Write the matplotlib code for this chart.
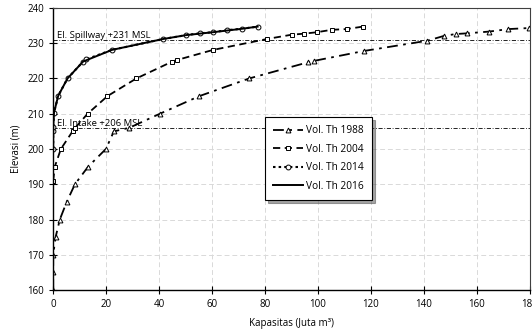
import matplotlib.pyplot as plt

plt.rcParams['font.family'] = ['Open Sans', 'DejaVu Sans']

# Vol. Th 1988
x_1988 = [0, 0, 0, 0.9, 2.5, 5.1, 8.2, 13.2, 19.9, 22.9, 28.7, 40.3, 55.2, 74.0,
          96.3, 98.6, 117.4, 141.3, 147.7, 152.1, 156.4, 164.7, 171.9, 179.8]
y_1988 = [160, 165, 170, 175, 180, 185, 190, 195, 200, 205, 206, 210, 215, 220,
          224.6, 225, 227.8, 230.7, 232.1, 232.6, 232.8, 233.3, 234.0, 234.3]

# Vol. Th 2004
x_2004 = [0, 0.6, 2.9, 7.3, 8.3, 13.0, 20.5, 31.4, 44.7, 46.6, 60.4, 80.8,
          90.0, 94.7, 99.5, 105.2, 110.8, 116.9]
y_2004 = [191, 195, 200, 205, 206, 210, 215, 220, 224.7, 225.2, 228.1, 231.2,
          232.4, 232.7, 233.1, 233.8, 234.0, 234.7]

# Vol. Th 2014
x_2014 = [0, 0, 0, 0.3, 1.9, 5.4, 11.3, 12.4, 22.2, 41.6, 50.3, 55.3, 60.2,
          65.6, 71.4, 77.2]
y_2014 = [200, 205.2, 206.2, 210.3, 215.1, 220, 224.8, 225.4, 228.1, 231.2,
          232.3, 232.8, 233.1, 233.7, 234.1, 234.7]

# Vol. Th 2016
x_2016 = [0, 0, 0.3, 1.9, 5.4, 11.3, 22.2, 41.6, 50.3, 60.2, 71.4, 77.2]
y_2016 = [200, 206, 210.3, 215.1, 220, 224.8, 228.1, 231.2, 232.3, 233.1, 234.1, 234.7]

el_spillway = 231
el_intake = 206

fig = plt.figure(figsize=(5.32, 3.30), dpi=100)
ax = fig.add_axes([0.100, 0.121, 0.896, 0.855])

ax.plot(x_1988, y_1988, color='black', linestyle=(0, (6, 3, 1.5, 3)), linewidth=1.3,
        marker='^', markersize=3.5, markerfacecolor='white', markeredgewidth=0.7,
        label='Vol. Th 1988')
ax.plot(x_2004, y_2004, color='black', linestyle=(0, (4, 2.5)), linewidth=1.3,
        marker='s', markersize=3.5, markerfacecolor='white', markeredgewidth=0.7,
        label='Vol. Th 2004')
ax.plot(x_2014, y_2014, color='black', linestyle=(0, (1.2, 1.5)), linewidth=1.5,
        marker='o', markersize=3.5, markerfacecolor='white', markeredgewidth=0.7,
        label='Vol. Th 2014')
ax.plot(x_2016, y_2016, color='black', linestyle='-', linewidth=1.4,
        label='Vol. Th 2016')

ax.axhline(el_spillway, color='black', linestyle=(0, (5, 2, 1, 2)), linewidth=0.6, zorder=1)
ax.axhline(el_intake, color='black', linestyle=(0, (5, 2, 1, 2)), linewidth=0.6, zorder=1)
ax.text(1.5, el_spillway + 0.6, 'El. Spillway +231 MSL', fontsize=6.8)
ax.text(1.5, el_intake + 0.6, 'El. Intake +206 MSL', fontsize=6.8)

ax.set_xlim(0, 180)
ax.set_ylim(160, 240)
ax.set_xticks(range(0, 181, 20))
ax.set_yticks(range(160, 241, 10))
ax.tick_params(direction='inout', length=6, width=0.8, labelsize=7, colors='black')
ax.grid(True, color='#d9d9d9', linestyle=(0, (5, 3)), linewidth=0.7)
ax.set_axisbelow(True)

for s in ['left', 'bottom']:
    ax.spines[s].set_linewidth(1.0)
for s in ['top', 'right']:
    ax.spines[s].set_color('#404040')
    ax.spines[s].set_linewidth(0.8)

ax.set_xlabel('Kapasitas (Juta m³)', fontsize=7, labelpad=6)
ax.set_ylabel('Elevasi (m)', fontsize=7)

leg = ax.legend(loc='upper left', bbox_to_anchor=(0.444, 0.613), borderaxespad=0,
                fontsize=7.3, fancybox=False, shadow=True, framealpha=1,
                edgecolor='black', handlelength=3, handletextpad=0.3,
                labelspacing=0.75, borderpad=0.8)
leg.get_frame().set_linewidth(0.8)

fig.savefig('out.png', dpi=100)
